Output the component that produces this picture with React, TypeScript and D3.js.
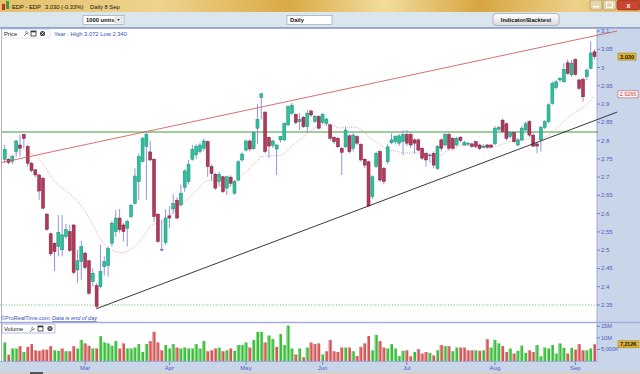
import React from "react";
import * as d3 from "d3";

// EDP daily candles, 30 Jan .. 8 Sep (one entry per trading day)
const opens = [
  2.749, 2.749, 2.743, 2.770, 2.788, 2.817, 2.784, 2.738, 2.720, 2.706,
  2.697, 2.599, 2.545, 2.519, 2.510, 2.501, 2.537, 2.551, 2.569, 2.446,
  2.469, 2.492, 2.471, 2.414, 2.403, 2.400, 2.455, 2.458, 2.519, 2.551,
  2.588, 2.569, 2.560, 2.592, 2.628, 2.688, 2.743, 2.784, 2.769, 2.749,
  2.599, 2.501, 2.521, 2.594, 2.613, 2.637, 2.624, 2.672, 2.688, 2.749,
  2.761, 2.770, 2.779, 2.797, 2.729, 2.708, 2.688, 2.701, 2.670, 2.700,
  2.656, 2.692, 2.747, 2.774, 2.799, 2.778, 2.834, 2.918, 2.878, 2.809,
  2.787, 2.777, 2.802, 2.802, 2.843, 2.875, 2.872, 2.852, 2.864, 2.838,
  2.881, 2.852, 2.866, 2.849, 2.847, 2.843, 2.809, 2.806, 2.779, 2.783,
  2.813, 2.779, 2.811, 2.790, 2.749, 2.742, 2.647, 2.729, 2.770, 2.724,
  2.742, 2.794, 2.797, 2.793, 2.797, 2.817, 2.817, 2.802, 2.802, 2.779,
  2.765, 2.760, 2.765, 2.724, 2.802, 2.788, 2.817, 2.806, 2.788, 2.809,
  2.788, 2.790, 2.791, 2.797, 2.788, 2.781, 2.788, 2.788, 2.791, 2.831,
  2.856, 2.846, 2.811, 2.822, 2.788, 2.802, 2.829, 2.852, 2.815, 2.791,
  2.802, 2.836, 2.852, 2.902, 2.945, 2.966, 2.961, 3.013, 2.980, 3.022,
  2.966, 2.968, 2.975, 2.998, 3.043,
];
const highs = [
  2.788, 2.752, 2.760, 2.802, 2.816, 2.818, 2.788, 2.742, 2.722, 2.708,
  2.700, 2.600, 2.548, 2.522, 2.596, 2.596, 2.572, 2.570, 2.572, 2.501,
  2.526, 2.496, 2.474, 2.450, 2.410, 2.515, 2.483, 2.510, 2.580, 2.610,
  2.613, 2.574, 2.584, 2.626, 2.724, 2.765, 2.810, 2.822, 2.800, 2.752,
  2.600, 2.583, 2.612, 2.620, 2.653, 2.645, 2.680, 2.722, 2.747, 2.788,
  2.790, 2.795, 2.805, 2.800, 2.735, 2.712, 2.715, 2.704, 2.704, 2.705,
  2.692, 2.746, 2.768, 2.803, 2.803, 2.826, 2.900, 2.930, 2.880, 2.811,
  2.803, 2.790, 2.813, 2.850, 2.897, 2.903, 2.875, 2.875, 2.868, 2.884,
  2.885, 2.870, 2.870, 2.876, 2.862, 2.846, 2.812, 2.810, 2.782, 2.838,
  2.818, 2.820, 2.815, 2.793, 2.752, 2.745, 2.705, 2.770, 2.775, 2.728,
  2.790, 2.820, 2.815, 2.818, 2.828, 2.829, 2.822, 2.806, 2.806, 2.782,
  2.770, 2.765, 2.770, 2.788, 2.806, 2.822, 2.822, 2.810, 2.810, 2.813,
  2.800, 2.797, 2.795, 2.800, 2.791, 2.790, 2.791, 2.790, 2.840, 2.840,
  2.860, 2.850, 2.826, 2.826, 2.806, 2.840, 2.852, 2.856, 2.820, 2.795,
  2.840, 2.856, 2.902, 2.962, 2.966, 2.975, 3.012, 3.022, 3.020, 3.025,
  2.970, 2.972, 2.998, 3.072, 3.050,
];
const lows = [
  2.738, 2.735, 2.735, 2.756, 2.756, 2.779, 2.729, 2.713, 2.700, 2.638,
  2.612, 2.553, 2.483, 2.443, 2.483, 2.483, 2.530, 2.495, 2.434, 2.410,
  2.419, 2.447, 2.378, 2.400, 2.340, 2.395, 2.431, 2.428, 2.510, 2.537,
  2.548, 2.524, 2.510, 2.588, 2.625, 2.638, 2.740, 2.638, 2.743, 2.578,
  2.520, 2.497, 2.515, 2.560, 2.600, 2.585, 2.620, 2.660, 2.680, 2.745,
  2.750, 2.765, 2.770, 2.701, 2.690, 2.665, 2.674, 2.656, 2.651, 2.675,
  2.652, 2.688, 2.742, 2.770, 2.770, 2.774, 2.790, 2.858, 2.765, 2.752,
  2.780, 2.706, 2.795, 2.798, 2.840, 2.870, 2.845, 2.829, 2.834, 2.820,
  2.865, 2.848, 2.830, 2.845, 2.840, 2.800, 2.790, 2.779, 2.706, 2.780,
  2.765, 2.770, 2.788, 2.742, 2.724, 2.620, 2.640, 2.724, 2.686, 2.680,
  2.735, 2.790, 2.790, 2.785, 2.760, 2.785, 2.780, 2.765, 2.770, 2.747,
  2.729, 2.740, 2.724, 2.720, 2.770, 2.784, 2.774, 2.775, 2.784, 2.795,
  2.786, 2.786, 2.780, 2.780, 2.774, 2.779, 2.778, 2.779, 2.788, 2.826,
  2.820, 2.800, 2.806, 2.793, 2.784, 2.798, 2.825, 2.810, 2.782, 2.765,
  2.770, 2.832, 2.848, 2.898, 2.940, 2.960, 2.958, 2.980, 2.975, 2.978,
  2.938, 2.907, 2.965, 2.995, 3.022,
];
const closes = [
  2.776, 2.740, 2.756, 2.799, 2.779, 2.806, 2.738, 2.718, 2.706, 2.662,
  2.615, 2.557, 2.490, 2.496, 2.549, 2.542, 2.556, 2.499, 2.439, 2.471,
  2.510, 2.453, 2.382, 2.437, 2.346, 2.442, 2.469, 2.504, 2.574, 2.588,
  2.556, 2.551, 2.579, 2.623, 2.703, 2.756, 2.806, 2.817, 2.747, 2.592,
  2.524, 2.500, 2.588, 2.588, 2.628, 2.588, 2.656, 2.717, 2.735, 2.776,
  2.784, 2.788, 2.799, 2.729, 2.710, 2.670, 2.708, 2.660, 2.701, 2.683,
  2.688, 2.742, 2.763, 2.799, 2.777, 2.822, 2.858, 2.928, 2.770, 2.785,
  2.799, 2.788, 2.811, 2.847, 2.893, 2.897, 2.849, 2.858, 2.838, 2.875,
  2.870, 2.866, 2.834, 2.872, 2.859, 2.806, 2.797, 2.783, 2.768, 2.829,
  2.770, 2.815, 2.793, 2.747, 2.733, 2.621, 2.701, 2.765, 2.692, 2.688,
  2.783, 2.802, 2.811, 2.813, 2.817, 2.793, 2.788, 2.793, 2.774, 2.752,
  2.747, 2.758, 2.733, 2.784, 2.779, 2.817, 2.779, 2.779, 2.806, 2.800,
  2.795, 2.793, 2.784, 2.784, 2.779, 2.785, 2.782, 2.782, 2.834, 2.836,
  2.825, 2.806, 2.822, 2.797, 2.802, 2.834, 2.846, 2.815, 2.785, 2.785,
  2.836, 2.852, 2.898, 2.957, 2.961, 2.970, 2.995, 2.984, 3.012, 2.981,
  2.943, 2.920, 2.993, 3.040, 3.030,
];
// volume in millions of shares
const volumes = [
  8.0, 2.7, 5.4, 5.4, 6.4, 3.9, 6.1, 7.3, 4.6, 4.4,
  4.9, 4.9, 6.4, 4.6, 4.4, 5.4, 4.2, 4.2, 6.4, 5.4,
  9.1, 7.6, 6.6, 5.4, 5.4, 10.7, 8.0, 7.6, 6.6, 8.6,
  5.4, 7.6, 5.4, 5.4, 5.8, 7.3, 3.9, 7.3, 8.6, 12.6,
  8.0, 4.6, 6.9, 5.4, 7.3, 5.8, 5.4, 5.8, 5.4, 5.4,
  7.3, 5.4, 8.6, 4.2, 4.6, 5.4, 5.8, 4.2, 4.6, 5.4,
  4.4, 6.9, 6.9, 8.0, 5.8, 9.1, 12.6, 12.6, 8.0, 11.0,
  9.5, 6.1, 11.7, 6.9, 15.3, 5.4, 2.8, 5.4, 1.55, 5.8,
  8.0, 7.3, 7.6, 2.8, 4.2, 9.1, 4.2, 3.9, 5.8, 5.8,
  5.8, 4.2, 2.1, 6.1, 7.6, 10.8, 4.6, 11.3, 8.6, 5.8,
  5.4, 7.3, 5.4, 2.1, 4.4, 4.6, 2.0, 3.9, 5.1, 3.2,
  3.9, 3.5, 2.4, 4.6, 6.9, 6.4, 6.4, 4.2, 5.8, 5.8,
  5.8, 4.6, 4.6, 4.6, 4.4, 4.6, 9.4, 5.8, 9.1, 7.6,
  6.4, 3.9, 5.4, 3.2, 4.4, 6.6, 3.5, 4.6, 3.9, 6.9,
  2.0, 5.8, 5.4, 6.9, 3.2, 7.6, 5.7, 3.2, 5.7, 4.9,
  7.3, 4.6, 4.6, 5.4, 7.21,
];

const monthLabels = ["Mar", "Apr", "May", "Jun", "Jul", "Aug", "Sep"];
const monthStarts = [21, 43, 63, 83, 105, 128, 149];

const priceTicks = [3.1, 3.05, 3, 2.95, 2.9, 2.85, 2.8, 2.75, 2.7, 2.65, 2.6, 2.55, 2.5, 2.45, 2.4, 2.35];
const volumeTicks = [15, 10, 5];
const volumeTickLabels = ["15M", "10M", "5,000K"];

const horizontalLevel = 2.8236;
const yearLowLevel = 2.35;
// trend lines as [index, price] end points
const resistanceLine = [[-1.23, 2.739], [159.9, 3.1]];
const supportLine = [[24, 2.34], [159.9, 2.878]];

const maPeriod = 20;
const lastMaLabel = "2.9266";
const lastVolumeLabel = "7,212K";

const font = "'Liberation Sans', Arial, sans-serif";
const axisBlue = "#4c5cc4";
const axisBg = "#c9d5e8";
const lav = "#a4acdf";

export default function App() {
  const W = 640, H = 374;
  const x = d3.scaleLinear().domain([0, opens.length - 1]).range([4.7, 594.5]);
  const y = d3.scaleLinear().domain([2.35, 3.1]).range([305, 31]);
  const yv = d3.scaleLinear().domain([0, 15]).range([361, 326.3]);
  const fmt = d3.format(".2~f");

  const ma = closes.map((_, i) => d3.mean(closes.slice(Math.max(0, i - maPeriod + 1), i + 1)) as number);
  const maPath = d3.line<number>().x((_, i) => x(i)).y(d => y(d))(ma) || "";
  const trend = d3.line<number[]>().x(d => x(d[0])).y(d => y(d[1]));

  const lastClose = closes[closes.length - 1];
  const lastMaY = y(+lastMaLabel);

  return (
    <div style={{ width: W, height: H, overflow: "hidden" }}>
      <style>{"body{margin:0;overflow:hidden}"}</style>
      <svg width={W} height={H} style={{ display: "block", fontFamily: font }}>
        <defs>
          <linearGradient id="titleGrad" x1="0" x2="1" y1="0" y2="0">
            <stop offset="0" stopColor="#e4c06a" />
            <stop offset="0.25" stopColor="#efd38e" />
            <stop offset="0.45" stopColor="#d9aa45" />
            <stop offset="0.6" stopColor="#f2dc9c" />
            <stop offset="0.75" stopColor="#d6a640" />
            <stop offset="0.9" stopColor="#edd08a" />
            <stop offset="1" stopColor="#e2bb60" />
          </linearGradient>
          <linearGradient id="btnGrad" x1="0" x2="0" y1="0" y2="1">
            <stop offset="0" stopColor="#ffffff" />
            <stop offset="1" stopColor="#dcdcdc" />
          </linearGradient>
          <clipPath id="priceClip">
            <rect x={2} y={39} width={595} height={283} />
          </clipPath>
          <clipPath id="lineClip">
            <rect x={2} y={29} width={616} height={293} />
          </clipPath>
        </defs>

        {/* window title */}
        <rect x={0} y={0} width={W} height={12} fill="url(#titleGrad)" />
        <rect x={2} y={4} width={3} height={6} fill="#c03030" />
        <rect x={6} y={1} width={3} height={8} fill="#30a040" />
        <text x={12} y={9} fontSize={5.8} fill="#111">EDP - EDP</text>
        <text x={45} y={9} fontSize={5.8} fill="#111">3.030 (-0.33%)</text>
        <text x={90} y={9} fontSize={5.8} fill="#111">Daily  8 Sep</text>
        <rect x={590} y={0} width={12} height={10} rx={2} fill="#e8d6a8" stroke="#9a8a60" strokeWidth={0.6} />
        <rect x={593} y={6} width={6} height={1.3} fill="#fff" />
        <rect x={603} y={0} width={13} height={10} rx={2} fill="#e8d6a8" stroke="#9a8a60" strokeWidth={0.6} />
        <rect x={606.5} y={2.5} width={6} height={5} fill="none" stroke="#fff" strokeWidth={1} />
        <rect x={617} y={0} width={23} height={10} rx={2} fill="#c8452e" stroke="#8a3020" strokeWidth={0.6} />
        <text x={628.5} y={8} fontSize={7} fill="#fff" textAnchor="middle" fontWeight="bold">x</text>

        {/* toolbar */}
        <rect x={0} y={12} width={W} height={16} fill="#dbe5ee" />
        <line x1={0} x2={W} y1={27.5} y2={27.5} stroke="#8fa6c2" />
        <rect x={83} y={15.5} width={41} height={9} fill="#fff" stroke="#9aa8b8" strokeWidth={0.7} />
        <text x={86} y={22.3} fontSize={5.8} fontWeight="bold" fill="#111">1000 units</text>
        <rect x={115} y={17} width={7} height={6} fill="#eef0f2" stroke="#b0b8c0" strokeWidth={0.5} />
        <path d="M117,19 L120,19 L118.5,21 Z" fill="#333" />
        <rect x={287} y={15.5} width={45} height={9} fill="#fff" stroke="#9aa8b8" strokeWidth={0.7} />
        <text x={290} y={22.3} fontSize={5.8} fontWeight="bold" fill="#111">Daily</text>
        <rect x={493} y={13.5} width={66} height={12} rx={3} fill="url(#btnGrad)" stroke="#9aa0a8" strokeWidth={0.7} />
        <text x={526} y={22} fontSize={5.8} fontWeight="bold" fill="#111" textAnchor="middle">Indicator/Backtest</text>

        {/* chart areas */}
        <rect x={0} y={28} width={597} height={334} fill="#fff" />
        <rect x={597} y={28} width={43} height={344} fill={axisBg} />
        <rect x={0} y={362} width={597} height={10} fill={axisBg} />
        <rect x={0} y={372} width={W} height={2} fill="#d4d0c8" />
        <rect x={30} y={372} width={13} height={2} fill="#555" />
        <line x1={1.5} x2={1.5} y1={28} y2={362} stroke="#b4b4b4" />
        <line x1={0} x2={W} y1={28.5} y2={28.5} stroke={lav} />
        <line x1={0} x2={W} y1={322.5} y2={322.5} stroke={lav} strokeWidth={1.5} />
        <line x1={0} x2={597} y1={361.5} y2={361.5} stroke={lav} />
        <line x1={597} x2={597} y1={28} y2={362} stroke={lav} />

        {/* price panel header */}
        <rect x={2} y={29.5} width={48} height={8.5} fill="#fff" stroke="#c8cce0" strokeWidth={0.5} />
        <text x={4} y={36} fontSize={5.8} fill="#222">Price</text>
        <path d="M24,36 L27.5,32.5 M27,31 a1.4,1.4 0 1 0 1.4,1.4" stroke="#555" strokeWidth={0.7} fill="none" />
        <rect x={31} y={31} width={5} height={5} fill="#fff" stroke="#333" strokeWidth={0.8} />
        <rect x={31} y={31} width={5} height={1.3} fill="#333" />
        <circle cx={42.5} cy={33.5} r={2.6} fill="#444" />
        <path d="M41.3,32.3 L43.7,34.7 M43.7,32.3 L41.3,34.7" stroke="#fff" strokeWidth={0.7} />
        <text x={54} y={36} fontSize={5.8} fill="#3050c0">Year : High 3.072 Low 2.340</text>

        {/* levels */}
        <line x1={0} x2={597} y1={y(yearLowLevel)} y2={y(yearLowLevel)} stroke="#5ab05a" strokeWidth={0.8} strokeDasharray="1.2,1.6" />
        <line x1={2} x2={598} y1={y(horizontalLevel)} y2={y(horizontalLevel)} stroke="#3e9a3a" strokeWidth={1.1} />

        {/* moving average */}
        <g clipPath="url(#priceClip)">
          <path d={maPath} fill="none" stroke="#e39a9a" strokeWidth={0.8} strokeDasharray="1,1" />
        </g>

        {/* candles */}
        <g clipPath="url(#priceClip)">
          {opens.map((o, i) => {
            const c = closes[i];
            const up = c >= o;
            const top = y(Math.max(o, c));
            const h = Math.max(1, y(Math.min(o, c)) - top);
            const cx = x(i);
            return (
              <g key={i}>
                <line x1={cx} x2={cx} y1={y(highs[i])} y2={y(lows[i])} stroke="#8e96e2" strokeWidth={1} />
                {Math.abs(c - o) < 0.003 ? (
                  <line x1={cx - 1.8} x2={cx + 1.8} y1={top} y2={top} stroke="#3a44b0" strokeWidth={1} />
                ) : (
                  <rect x={cx - 1.5} y={top} width={3} height={h}
                    fill={up ? "#2fc09a" : "#b03a58"} stroke={up ? "#17907a" : "#82203c"} strokeWidth={0.5} />
                )}
              </g>
            );
          })}
        </g>

        {/* trend lines */}
        <g clipPath="url(#lineClip)">
          <path d={trend(resistanceLine) || ""} stroke="#d46060" strokeWidth={0.9} fill="none" />
          <path d={trend(supportLine) || ""} stroke="#222" strokeWidth={0.9} fill="none" />
        </g>

        <text x={1} y={320} fontSize={5.6} fill="#3050c0">©ProRealTime.com</text>
        <text x={52} y={320} fontSize={5.6} fill="#3050c0" fontStyle="italic" textDecoration="underline">Data is end of day</text>

        {/* price axis */}
        {priceTicks.map(t => (
          <g key={t}>
            <line x1={597} x2={600} y1={y(t)} y2={y(t)} stroke={axisBlue} strokeWidth={0.7} />
            <text x={601} y={y(t) + 2} fontSize={6} fill={axisBlue}>{fmt(t)}</text>
          </g>
        ))}
        <rect x={618} y={y(lastClose) - 3.5} width={18} height={7} fill="#e2b430" stroke="#9a7a10" strokeWidth={0.5} />
        <text x={627} y={y(lastClose) + 2} fontSize={5.6} fontWeight="bold" fill="#111" textAnchor="middle">{d3.format(".3f")(lastClose)}</text>
        <rect x={618} y={lastMaY - 3.5} width={20} height={7} fill="#fff" stroke="#d05050" strokeWidth={0.6} />
        <text x={628} y={lastMaY + 2} fontSize={5.4} fill="#c03030" textAnchor="middle">{lastMaLabel}</text>

        {/* volume panel */}
        <rect x={2} y={324} width={53} height={9} fill="#fff" stroke="#8890c8" strokeWidth={0.6} />
        <text x={4} y={331} fontSize={5.8} fill="#222">Volume</text>
        <path d="M30,332 L33.5,328.5 M33,327 a1.4,1.4 0 1 0 1.4,1.4" stroke="#555" strokeWidth={0.7} fill="none" />
        <rect x={38} y={326} width={5} height={5} fill="#fff" stroke="#333" strokeWidth={0.8} />
        <rect x={38} y={326} width={5} height={1.3} fill="#333" />
        <circle cx={50} cy={328.5} r={2.6} fill="#444" />
        <path d="M48.8,327.3 L51.2,329.7 M51.2,327.3 L48.8,329.7" stroke="#fff" strokeWidth={0.7} />

        {volumes.map((v, i) => {
          const prev = i === 0 ? opens[0] : closes[i - 1];
          const up = closes[i] >= prev;
          const cx = x(i);
          return (
            <g key={i}>
              <rect x={cx - 1.5} y={yv(v)} width={3} height={yv(0) - yv(v)} fill={up ? "#3cbc3c" : "#cf5757"} />
              <rect x={cx - 1.5} y={yv(v)} width={1} height={yv(0) - yv(v)} fill={up ? "#8fe08f" : "#ec9a9a"} />
            </g>
          );
        })}

        {volumeTicks.map((t, i) => (
          <g key={t}>
            <line x1={597} x2={600} y1={yv(t)} y2={yv(t)} stroke={axisBlue} strokeWidth={0.7} />
            <text x={601} y={yv(t) + 2} fontSize={5.6} fill={axisBlue}>{volumeTickLabels[i]}</text>
          </g>
        ))}
        <rect x={618} y={yv(volumes[volumes.length - 1]) - 3.5} width={21} height={7} fill="#e2b430" stroke="#9a7a10" strokeWidth={0.5} />
        <text x={628.5} y={yv(volumes[volumes.length - 1]) + 2} fontSize={5.2} fontWeight="bold" fill="#111" textAnchor="middle">{lastVolumeLabel}</text>

        {/* time axis */}
        {monthStarts.map((m, i) => (
          <g key={m}>
            <line x1={x(m)} x2={x(m)} y1={362} y2={365} stroke={axisBlue} strokeWidth={0.7} />
            <text x={x(m)} y={370} fontSize={6} fill={axisBlue} textAnchor="middle">{monthLabels[i]}</text>
          </g>
        ))}
      </svg>
    </div>
  );
}
